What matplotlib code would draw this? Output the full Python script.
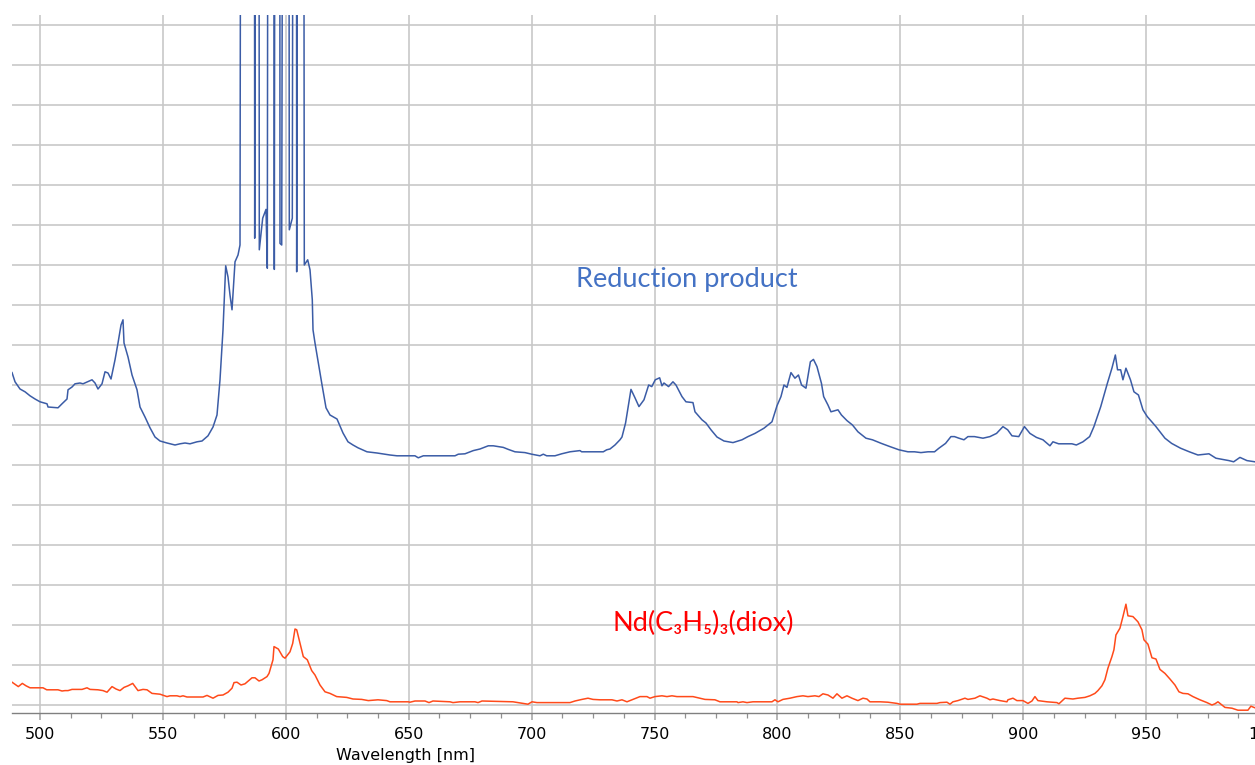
import matplotlib.pyplot as plt
from matplotlib.ticker import MultipleLocator

# saturated detector readings, these run off the top of the plot
SAT = 40.0

# reduction product spectrum
blue_nm = [488.61, 489.83, 491.86, 493.90, 495.93, 497.97, 500.00, 502.85, 503.25, 507.32,
           508.95, 510.98, 511.39, 513.02, 514.24, 516.27, 517.49, 521.15, 522.37, 523.59,
           525.22, 526.44, 527.66, 528.88, 530.51, 531.73, 532.95, 533.76, 534.17, 535.80,
           537.43, 539.46, 540.68, 542.71, 544.75, 546.78, 548.82, 551.66, 554.92, 556.95,
           558.99, 561.02, 563.87, 565.90, 568.34, 570.38, 572.00, 573.22, 574.44, 575.54,
           576.48, 577.29, 578.11, 579.33, 580.55, 581.36, 582.05, 587.06, 587.34, 587.87,
           588.89, 589.21, 590.59, 591.94, 592.47, 593.04, 594.91, 595.32, 595.89, 597.43,
           597.63, 598.33, 599.26, 601.01, 601.42, 602.64, 603.33, 604.22, 604.42, 605.08,
           606.99, 607.52, 608.90, 609.84, 610.77, 611.06, 611.87, 614.60, 616.35, 617.97,
           620.82, 623.26, 625.29, 627.33, 629.36, 633.02, 637.09, 642.38, 645.23, 652.55,
           653.89, 655.93, 668.82, 670.17, 672.89, 676.27, 678.99, 682.37, 684.40, 688.47,
           690.51, 693.23, 697.30, 700.03, 703.40, 704.75, 706.13, 709.50, 712.23, 715.60,
           719.67, 720.37, 729.15, 730.54, 731.88, 733.91, 735.94, 736.76, 738.22, 740.42,
           742.05, 743.67, 745.71, 747.62, 748.88, 750.30, 752.09, 753.03, 753.84, 755.71,
           757.50, 758.72, 761.17, 762.79, 765.64, 766.46, 769.30, 770.93, 772.97, 775.41,
           778.26, 781.92, 785.58, 788.02, 790.87, 794.53, 797.78, 799.82, 801.44, 802.66,
           803.88, 805.51, 807.13, 808.56, 809.82, 811.61, 813.40, 814.66, 816.09, 817.92,
           818.81, 820.56, 821.78, 824.63, 826.05, 828.29, 830.53, 832.76, 836.02, 838.66,
           842.28, 845.78, 849.44, 853.10, 855.79, 858.39, 861.24, 863.92, 865.71, 868.40,
           870.60, 872.02, 873.85, 875.89, 877.51, 880.16, 883.62, 886.46, 889.15, 891.75,
           893.67, 895.42, 898.18, 900.50, 902.74, 905.38, 908.03, 910.87, 912.09, 914.41,
           919.82, 921.61, 924.30, 927.02, 928.77, 931.54, 934.22, 936.09, 937.48, 938.37,
           939.64, 940.57, 941.79, 943.63, 945.05, 946.88, 948.71, 950.46, 954.00, 957.66,
           960.38, 964.00, 967.58, 971.08, 975.56, 978.40, 983.69, 985.61, 988.17, 991.02,
           994.28]
blue_int = [8.31, 8.08, 7.90, 7.83, 7.73, 7.65, 7.58, 7.53, 7.45, 7.43,
            7.53, 7.65, 7.88, 7.95, 8.03, 8.05, 8.03, 8.13, 8.05, 7.90,
            8.03, 8.33, 8.30, 8.15, 8.63, 9.05, 9.50, 9.63, 9.05, 8.70,
            8.25, 7.88, 7.45, 7.20, 6.93, 6.70, 6.60, 6.55, 6.50, 6.53,
            6.55, 6.53, 6.58, 6.60, 6.73, 6.95, 7.25, 8.13, 9.38, 10.98,
            10.70, 10.25, 9.88, 11.08, 11.25, 11.50, SAT, SAT, 11.67, SAT,
            SAT, 11.38, 12.17, 12.39, 10.92, SAT, SAT, 10.89, SAT, SAT,
            11.54, 11.50, SAT, SAT, 11.88, 12.17, SAT, SAT, 10.83, SAT,
            SAT, 11.00, 11.13, 10.88, 10.13, 9.38, 9.05, 8.05, 7.43, 7.25,
            7.15, 6.80, 6.58, 6.50, 6.43, 6.33, 6.30, 6.25, 6.23, 6.23,
            6.18, 6.23, 6.23, 6.27, 6.28, 6.36, 6.40, 6.48, 6.48, 6.44,
            6.39, 6.33, 6.31, 6.27, 6.23, 6.27, 6.23, 6.23, 6.28, 6.33,
            6.36, 6.33, 6.33, 6.38, 6.40, 6.50, 6.63, 6.70, 7.05, 7.89,
            7.68, 7.46, 7.63, 8.00, 7.96, 8.13, 8.18, 7.98, 8.05, 7.96,
            8.08, 8.00, 7.71, 7.58, 7.56, 7.33, 7.13, 7.05, 6.88, 6.70,
            6.60, 6.56, 6.63, 6.71, 6.79, 6.92, 7.08, 7.48, 7.71, 8.00,
            7.94, 8.31, 8.17, 8.25, 8.00, 7.92, 8.58, 8.64, 8.46, 8.04,
            7.71, 7.50, 7.33, 7.38, 7.25, 7.11, 7.00, 6.83, 6.67, 6.63,
            6.54, 6.46, 6.38, 6.33, 6.33, 6.31, 6.33, 6.33, 6.42, 6.54,
            6.71, 6.71, 6.67, 6.63, 6.71, 6.71, 6.67, 6.71, 6.79, 6.96,
            6.88, 6.73, 6.71, 6.96, 6.79, 6.69, 6.63, 6.48, 6.58, 6.53,
            6.53, 6.50, 6.58, 6.71, 6.96, 7.46, 8.04, 8.42, 8.75, 8.38,
            8.38, 8.13, 8.42, 8.13, 7.83, 7.75, 7.38, 7.21, 6.96, 6.67,
            6.54, 6.42, 6.33, 6.25, 6.28, 6.17, 6.11, 6.08, 6.19, 6.11,
            6.08]

# Nd(C3H5)3(diox) spectrum
red_nm = [488.61, 491.17, 492.80, 494.30, 495.93, 501.22, 502.73, 507.32, 508.95, 510.17,
          511.39, 513.02, 517.09, 519.12, 520.34, 523.59, 525.63, 527.26, 529.29, 530.92,
          532.54, 534.17, 535.80, 537.71, 539.87, 541.90, 543.53, 545.56, 548.82, 551.66,
          552.88, 555.73, 556.95, 558.17, 559.80, 566.31, 567.94, 570.38, 572.41, 574.44,
          576.48, 578.11, 578.92, 580.14, 581.77, 583.39, 586.24, 587.46, 589.09, 590.31,
          592.34, 593.16, 594.78, 595.19, 596.94, 598.73, 599.67, 601.70, 602.80, 603.74,
          604.43, 605.77, 607.11, 608.74, 610.53, 611.87, 613.90, 615.94, 617.97, 620.70,
          624.77, 627.33, 630.87, 633.56, 637.50, 641.04, 642.38, 649.83, 650.52, 652.55,
          656.62, 658.25, 659.87, 666.79, 668.01, 670.86, 676.96, 678.18, 679.81, 692.42,
          694.45, 698.52, 700.15, 702.18, 715.60, 717.64, 720.49, 722.93, 724.96, 727.81,
          732.69, 734.72, 736.76, 738.79, 741.23, 744.08, 746.93, 748.15, 750.18, 753.03,
          755.06, 757.10, 759.13, 765.64, 770.52, 774.59, 776.62, 783.54, 783.95, 785.98,
          787.61, 790.05, 797.78, 799.00, 800.22, 802.25, 805.10, 807.95, 810.39, 812.42,
          815.27, 816.90, 818.52, 820.56, 822.59, 824.22, 826.25, 828.29, 830.32, 832.76,
          834.80, 836.42, 837.64, 841.71, 844.97, 848.63, 849.85, 856.77, 857.98, 864.90,
          866.12, 868.97, 870.19, 871.41, 873.44, 876.29, 877.51, 880.36, 882.39, 885.24,
          886.46, 887.68, 890.53, 893.38, 893.78, 895.82, 897.44, 899.88, 901.92, 903.55,
          904.77, 905.99, 909.65, 913.72, 914.53, 916.97, 920.22, 922.26, 925.11, 927.14,
          929.17, 930.39, 932.02, 933.24, 934.46, 936.09, 936.90, 937.72, 939.35, 940.57,
          941.79, 942.60, 944.64, 946.67, 948.30, 949.11, 950.74, 952.37, 954.00, 955.62,
          957.66, 959.69, 961.73, 963.36, 964.98, 967.02, 969.05, 971.89, 974.74, 976.78,
          978.00, 979.22, 980.84, 982.06, 984.91, 987.35, 991.42, 992.63, 994.28]
red_int = [0.57, 0.46, 0.54, 0.48, 0.43, 0.43, 0.38, 0.38, 0.35, 0.36,
           0.36, 0.39, 0.39, 0.43, 0.39, 0.38, 0.36, 0.32, 0.46, 0.40,
           0.36, 0.44, 0.48, 0.54, 0.36, 0.39, 0.38, 0.29, 0.27, 0.21,
           0.23, 0.23, 0.21, 0.23, 0.20, 0.20, 0.24, 0.17, 0.24, 0.25,
           0.32, 0.42, 0.56, 0.57, 0.50, 0.53, 0.68, 0.68, 0.60, 0.63,
           0.71, 0.79, 1.13, 1.46, 1.40, 1.21, 1.17, 1.33, 1.54, 1.90,
           1.88, 1.54, 1.21, 1.13, 0.86, 0.75, 0.50, 0.33, 0.29, 0.21,
           0.19, 0.15, 0.14, 0.11, 0.13, 0.11, 0.08, 0.08, 0.07, 0.10,
           0.10, 0.06, 0.10, 0.08, 0.06, 0.08, 0.08, 0.06, 0.10, 0.08,
           0.06, 0.02, 0.08, 0.06, 0.06, 0.10, 0.14, 0.17, 0.14, 0.13,
           0.13, 0.10, 0.13, 0.08, 0.14, 0.21, 0.21, 0.17, 0.21, 0.23,
           0.21, 0.23, 0.21, 0.21, 0.14, 0.13, 0.08, 0.08, 0.06, 0.08,
           0.06, 0.08, 0.08, 0.13, 0.08, 0.14, 0.17, 0.21, 0.23, 0.21,
           0.23, 0.21, 0.28, 0.25, 0.17, 0.28, 0.17, 0.23, 0.17, 0.11,
           0.17, 0.15, 0.08, 0.08, 0.07, 0.04, 0.02, 0.02, 0.04, 0.04,
           0.06, 0.07, 0.02, 0.08, 0.11, 0.17, 0.14, 0.17, 0.23, 0.17,
           0.13, 0.15, 0.11, 0.08, 0.13, 0.17, 0.11, 0.11, 0.04, 0.10,
           0.21, 0.11, 0.08, 0.06, 0.03, 0.17, 0.15, 0.17, 0.19, 0.23,
           0.29, 0.36, 0.48, 0.63, 0.92, 1.21, 1.38, 1.75, 1.92, 2.21,
           2.52, 2.23, 2.21, 2.08, 1.88, 1.63, 1.52, 1.18, 1.15, 0.89,
           0.79, 0.65, 0.50, 0.33, 0.29, 0.28, 0.21, 0.13, 0.06, 0.00,
           0.03, 0.08, 0.00, -0.06, -0.08, -0.13, -0.13, -0.03, -0.07]

xticks = [500, 550, 600, 650, 700, 750, 800, 850, 900, 950, 1000]
label_font = ['Lato', 'Noto Sans', 'DejaVu Sans']

fig = plt.figure(figsize=(12.55, 7.65), dpi=100)
# the wavelength axis runs a little past the right edge of the figure
ax = fig.add_axes([12 / 1255, 52 / 765, 1281.6 / 1255, 698 / 765])

ax.plot(blue_nm, blue_int, color='#3b5ca6', linewidth=1.1)
ax.plot(red_nm, red_int, color='#ff4a1a', linewidth=1.1)

ax.text(763.2, 10.65, 'Reduction product', color='#4472c4', fontsize=19.5,
        ha='center', va='center', family=label_font)
ax.text(769.7, 2.03, 'Nd(C₃H₅)₃(diox)', color='#ff0000', fontsize=19.5,
        ha='center', va='center', family=label_font)

ax.set_xlim(488.6, 1010)
ax.set_ylim(-0.2, 17.25)
ax.set_xticks(xticks)
ax.xaxis.set_minor_locator(MultipleLocator(12.5))
ax.set_yticks(range(18))

ax.tick_params(axis='y', length=0, labelleft=False)
ax.tick_params(axis='x', which='major', length=5, width=1.2, color='#a8a8a8',
               labelsize=11.5, pad=5)
ax.tick_params(axis='x', which='minor', length=3.5, width=0.9, color='#909090')

ax.grid(True, which='major', color='#c8c8c8', linewidth=1.2)
ax.set_axisbelow(True)
for side in ['top', 'left', 'right']:
    ax.spines[side].set_visible(False)
ax.spines['bottom'].set_color('#808080')
ax.spines['bottom'].set_linewidth(1.0)

ax.set_xlabel('Wavelength [nm]', fontsize=11.5)
ax.xaxis.set_label_coords(0.3074, -0.050)

fig.savefig('out.png', dpi=100)
